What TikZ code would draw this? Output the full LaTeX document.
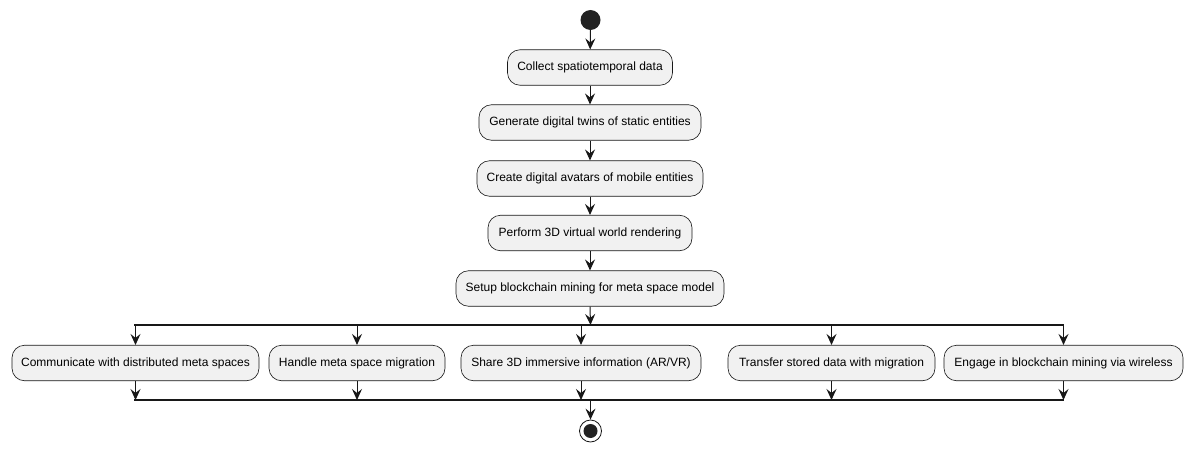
\documentclass[tikz,border=0pt]{standalone}
\usepackage{fontspec}
\setmainfont{Liberation Sans}
\usetikzlibrary{arrows.meta}
\definecolor{umlline}{HTML}{181818}
\definecolor{umlfill}{HTML}{F1F1F1}
\definecolor{umldot}{HTML}{222222}
\tikzset{
  act/.style={draw=umlline, fill=umlfill, line width=0.6pt, rounded corners=12.5pt,
    minimum height=35.5pt, inner sep=0pt, font=\fontsize{12}{14}\selectfont, text=black},
  flow/.style={draw=umlline, line width=1pt, -{Stealth[length=11pt,width=10pt,inset=4pt]}},
  bar/.style={draw=umlline, line width=1.5pt},
}
\begin{document}
\begin{tikzpicture}[x=1pt,y=-1pt]
\useasboundingbox (0,0) rectangle (1192,452);
\node[circle, fill=umldot, minimum size=20pt, inner sep=0pt] (start) at (590.5,20) {};
\node[act, minimum width=165pt] (a1) at (590,67.5) {Collect spatiotemporal data};
\node[act, minimum width=222pt] (a2) at (590,122.5) {Generate digital twins of static entities};
\node[act, minimum width=226pt] (a3) at (590,178.5) {Create digital avatars of mobile entities};
\node[act, minimum width=204pt] (a4) at (590,233) {Perform 3D virtual world rendering};
\node[act, minimum width=268pt] (a5) at (590,288.5) {Setup blockchain mining for meta space model};
\coordinate (forkL) at (134,325);
\coordinate (forkR) at (1064,325);
\coordinate (joinL) at (134,400);
\coordinate (joinR) at (1064,400);
\draw[bar] (forkL) -- (forkR);
\draw[bar] (joinL) -- (joinR);
\node[act, minimum width=247pt] (b1) at (135.5,363) {Communicate with distributed meta spaces};
\node[act, minimum width=176pt] (b2) at (357,363) {Handle meta space migration};
\node[act, minimum width=240pt] (b3) at (581,363) {Share 3D immersive information (AR/VR)};
\node[act, minimum width=207pt] (b4) at (831.5,363) {Transfer stored data with migration};
\node[act, minimum width=239pt] (b5) at (1063.5,363) {Engage in blockchain mining via wireless};
\node[circle, draw=umlline, line width=0.8pt, fill=white, minimum size=22pt, inner sep=0pt] (stop) at (590.5,431) {};
\node[circle, fill=umldot, minimum size=14pt, inner sep=0pt] at (stop.center) {};
\coordinate (forkIn) at (590.5,325);
\coordinate (joinOut) at (590.5,400);
\draw[flow] (start) -- (a1);
\draw[flow] (a1) -- (a2);
\draw[flow] (a2) -- (a3);
\draw[flow] (a3) -- (a4);
\draw[flow] (a4) -- (a5);
\draw[flow] (a5.south) -- (forkIn);
\foreach \b in {b1,b2,b3,b4,b5}{
  \draw[flow] (forkL -| \b.north) -- (\b.north);
  \draw[flow] (\b.south) -- (joinL -| \b.south);
}
\draw[flow] (joinOut) -- (stop.north);
\end{tikzpicture}
\end{document}
